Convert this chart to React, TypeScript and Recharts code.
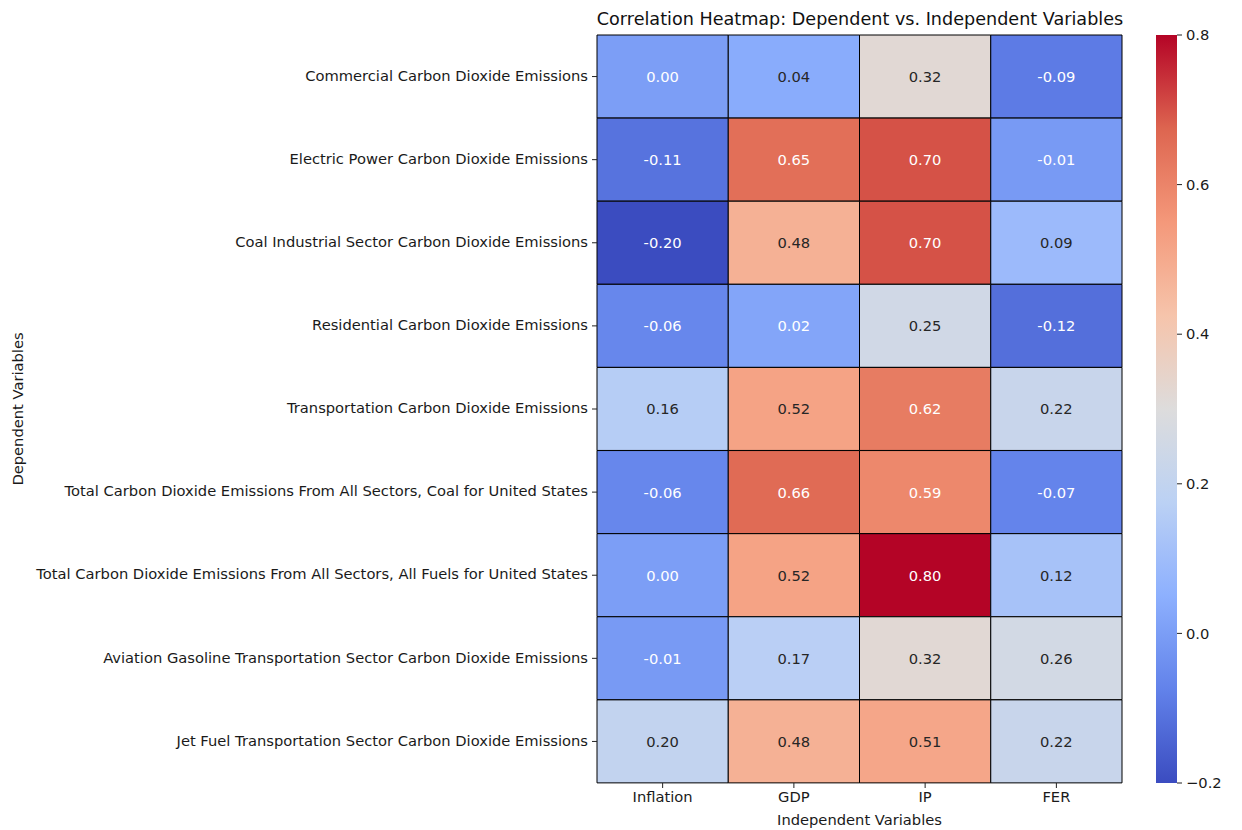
import React from 'react';
import { BarChart, Bar, XAxis, YAxis, Cell, LabelList } from 'recharts';

const ROWS = [
  'Commercial Carbon Dioxide Emissions',
  'Electric Power Carbon Dioxide Emissions',
  'Coal Industrial Sector Carbon Dioxide Emissions',
  'Residential Carbon Dioxide Emissions',
  'Transportation Carbon Dioxide Emissions',
  'Total Carbon Dioxide Emissions From All Sectors, Coal for United States',
  'Total Carbon Dioxide Emissions From All Sectors, All Fuels for United States',
  'Aviation Gasoline Transportation Sector Carbon Dioxide Emissions',
  'Jet Fuel Transportation Sector Carbon Dioxide Emissions',
];

const COLS = ['Inflation', 'GDP', 'IP', 'FER'];

// correlation per column, one entry per row
const INFLATION = [0.0, -0.11, -0.2, -0.06, 0.16, -0.06, 0.0, -0.01, 0.2];
const GDP = [0.04, 0.65, 0.48, 0.02, 0.52, 0.66, 0.52, 0.17, 0.48];
const IP = [0.32, 0.7, 0.7, 0.25, 0.62, 0.59, 0.8, 0.32, 0.51];
const FER = [-0.09, -0.01, 0.09, -0.12, 0.22, -0.07, 0.12, 0.26, 0.22];

const COLUMN_VALUES = [INFLATION, GDP, IP, FER];

const VMIN = -0.2;
const VMAX = 0.8;
const CBAR_RANGE = [VMIN, VMAX];
const CBAR_TICKS = [-0.2, 0, 0.2, 0.4, 0.6, 0.8];

const FONT = '"DejaVu Sans", sans-serif';
const FS = 14.7;

// matplotlib coolwarm, sampled
const COOLWARM: [number, number, number, number][] = [
  [0.0, 0.2298, 0.2987, 0.7537],
  [0.125, 0.3848, 0.5092, 0.9171],
  [0.25, 0.552, 0.6901, 0.9955],
  [0.375, 0.735, 0.8184, 0.9578],
  [0.5, 0.8674, 0.8644, 0.8626],
  [0.625, 0.9665, 0.768, 0.6694],
  [0.75, 0.9566, 0.598, 0.4773],
  [0.875, 0.8674, 0.3958, 0.3124],
  [1.0, 0.7057, 0.0156, 0.1502],
];

const cmapRgb = (t: number) => {
  const u = Math.max(0, Math.min(1, t));
  for (let i = 1; i < COOLWARM.length; i++) {
    const a = COOLWARM[i - 1];
    const b = COOLWARM[i];
    if (u <= b[0]) {
      const f = (u - a[0]) / (b[0] - a[0]);
      return [1, 2, 3].map((k) => a[k] + f * (b[k] - a[k]));
    }
  }
  const last = COOLWARM[COOLWARM.length - 1];
  return [last[1], last[2], last[3]];
};

const toHex = (rgb: number[]) =>
  '#' + rgb.map((c) => Math.round(c * 255).toString(16).padStart(2, '0')).join('');

const norm = (v: number) => (v - VMIN) / (VMAX - VMIN);
const colorFor = (v: number) => toHex(cmapRgb(norm(v)));

// seaborn's rule for annotation colour
const textColorFor = (v: number) => {
  const lin = cmapRgb(norm(v)).map((c) =>
    c <= 0.03928 ? c / 12.92 : Math.pow((c + 0.055) / 1.055, 2.4)
  );
  const lum = 0.2126 * lin[0] + 0.7152 * lin[1] + 0.0722 * lin[2];
  return lum > 0.408 ? '#262626' : '#ffffff';
};

const tableData = ROWS.map((name, r) => {
  const row: any = { name };
  COLUMN_VALUES.forEach((vals, c) => {
    row[`c${c}`] = 1;
    row[`v${c}`] = vals[r];
  });
  return row;
});

const cbarData = [{ name: 'cbar', range: CBAR_RANGE }];

const renderCellLabel = (props: any) => {
  const { x, y, width, height, value } = props;
  return (
    <text
      x={x + width / 2}
      y={y + height / 2}
      textAnchor="middle"
      dominantBaseline="central"
      fontFamily={FONT}
      fontSize={FS}
      fill={textColorFor(value)}
    >
      {Number(value).toFixed(2)}
    </text>
  );
};

const fmtCbar = (v: number) => (v < 0 ? '\u2212' + Math.abs(v).toFixed(1) : v.toFixed(1));

export default function App() {
  return (
    <div style={{ position: 'absolute', left: 0, top: 0, width: 1242, height: 830, background: '#fff' }}>
      <div
        style={{
          position: 'absolute',
          left: 560,
          width: 600,
          top: 7,
          textAlign: 'center',
          fontFamily: FONT,
          fontSize: 17.6,
          lineHeight: '24px',
          color: '#111',
          whiteSpace: 'nowrap',
        }}
      >
        Correlation Heatmap: Dependent vs. Independent Variables
      </div>

      <div style={{ position: 'absolute', left: 0, top: 0 }}>
        <BarChart
          width={1130}
          height={830}
          data={tableData}
          layout="vertical"
          margin={{ top: 35, right: 8, bottom: 0, left: 0 }}
          barCategoryGap={0}
          barGap={0}
        >
          <XAxis
            type="number"
            domain={[0, COLS.length]}
            ticks={COLS.map((_, i) => i + 0.5)}
            tickFormatter={(v: number) => COLS[Math.floor(v)]}
            height={47}
            axisLine={false}
            tickSize={5}
            tickMargin={4}
            tickLine={{ stroke: '#222' }}
            tick={{ fill: '#1a1a1a', fontSize: FS, fontFamily: FONT }}
            label={{
              content: (p: any) => {
                const vb = p.viewBox;
                return (
                  <text
                    x={vb.x + vb.width / 2}
                    y={vb.y + 42}
                    textAnchor="middle"
                    fontFamily={FONT}
                    fontSize={FS}
                    fill="#1a1a1a"
                  >
                    Independent Variables
                  </text>
                );
              },
            }}
          />
          <YAxis
            type="category"
            dataKey="name"
            width={597}
            interval={0}
            axisLine={false}
            tickSize={5}
            tickMargin={4}
            tickLine={{ stroke: '#222' }}
            tick={{ fill: '#1a1a1a', fontSize: FS, fontFamily: FONT, dy: -1 }}
            label={{
              content: (p: any) => {
                const vb = p.viewBox;
                const cx = 23;
                const cy = vb.y + vb.height / 2;
                return (
                  <text
                    x={cx}
                    y={cy}
                    transform={`rotate(-90 ${cx} ${cy})`}
                    textAnchor="middle"
                    fontFamily={FONT}
                    fontSize={FS}
                    fill="#1a1a1a"
                  >
                    Dependent Variables
                  </text>
                );
              },
            }}
          />
          {COLS.map((col, c) => (
            <Bar key={col} dataKey={`c${c}`} stackId="heat" isAnimationActive={false}>
              {tableData.map((row, r) => (
                <Cell key={r} fill={colorFor(row[`v${c}`])} stroke="#000" strokeWidth={1} />
              ))}
              <LabelList dataKey={`v${c}`} content={renderCellLabel} />
            </Bar>
          ))}
        </BarChart>
      </div>

      <div style={{ position: 'absolute', left: 1156, top: 0 }}>
        <BarChart
          width={86}
          height={830}
          data={cbarData}
          margin={{ top: 35, right: 0, bottom: 47, left: 0 }}
          barCategoryGap={0}
        >
          <defs>
            <linearGradient id="cbarGrad" x1="0" y1="0" x2="0" y2="1">
              {Array.from({ length: 17 }, (_, k) => (
                <stop key={k} offset={`${(k / 16) * 100}%`} stopColor={toHex(cmapRgb(1 - k / 16))} />
              ))}
            </linearGradient>
          </defs>
          <XAxis type="category" dataKey="name" hide />
          <YAxis
            type="number"
            orientation="right"
            domain={CBAR_RANGE}
            ticks={CBAR_TICKS}
            width={65}
            axisLine={false}
            tickSize={5}
            tickMargin={4}
            tickLine={{ stroke: '#222' }}
            tickFormatter={fmtCbar}
            tick={{ fill: '#1a1a1a', fontSize: FS, fontFamily: FONT }}
          />
          <Bar dataKey="range" fill="url(#cbarGrad)" isAnimationActive={false} />
        </BarChart>
      </div>
    </div>
  );
}
